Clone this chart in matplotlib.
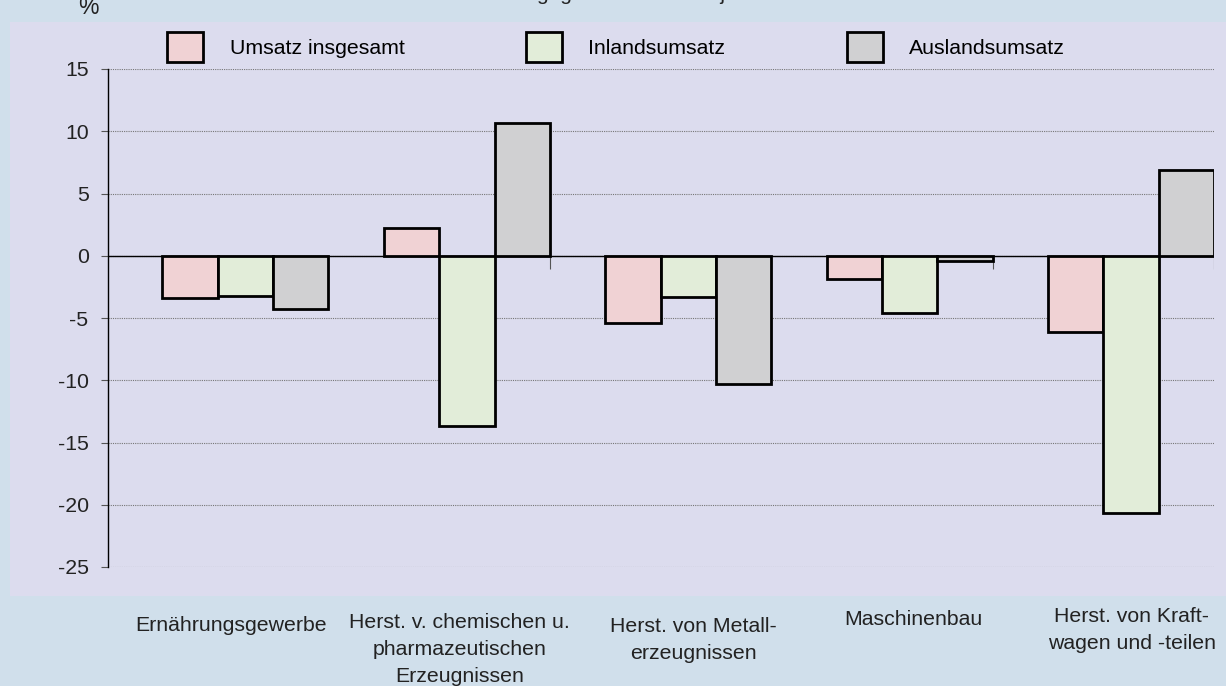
import numpy as np
import matplotlib.pyplot as plt
from matplotlib.patches import Rectangle
from matplotlib.transforms import blended_transform_factory, offset_copy

plt.rcParams['font.family'] = ['Liberation Sans', 'DejaVu Sans']

categories = ["Ernährungsgewerbe",
              "Herst. v. chemischen u.\npharmazeutischen\nErzeugnissen",
              "Herst. von Metall-\nerzeugnissen",
              "Maschinenbau",
              "Herst. von Kraft-\nwagen und -teilen"]
series_names = ["Umsatz insgesamt", "Inlandsumsatz", "Auslandsumsatz"]
umsatz = [-3.4, 2.2, -5.4, -1.9, -6.1]
inland = [-3.2, -13.7, -3.3, -4.6, -20.7]
ausland = [-4.3, 10.7, -10.3, -0.4, 6.9]
yticks = [15, 10, 5, 0, -5, -10, -15, -20, -25]

colors = ["#F0D2D4", "#E2EDD9", "#D0D0D2"]
outer_bg = "#D0DFEB"
inner_bg = "#DCDCEE"
W, H = 1226, 686

fig = plt.figure(figsize=(W / 100, H / 100), dpi=100)
fig.patch.set_facecolor(outer_bg)
# lavender panel behind plot and legend
fig.patches.append(Rectangle((10 / W, 1 - 596 / H), 1 - 10 / W, (596 - 22) / H,
                             transform=fig.transFigure, facecolor=inner_bg,
                             edgecolor='none', zorder=-1))

ax = fig.add_axes([108 / W, 1 - 567 / H, 1106 / W, 498 / H])
ax.set_zorder(1)
ax.set_facecolor('none')

x = np.arange(len(categories))
width = 0.25
bars = []
for j, vals in enumerate([umsatz, inland, ausland]):
    b = ax.bar(x + (j - 1) * width, vals, width, color=colors[j],
               edgecolor='black', linewidth=2.0, label=series_names[j], zorder=3)
    bars.append(b)

ax.set_xlim(-0.621, 4.375)
ax.set_ylim(-25, 15)
ax.set_yticks(yticks)
ax.set_yticklabels([str(v) for v in yticks], fontsize=15.3, color='#222222')
ax.tick_params(axis='y', length=5, width=0.8, color='#555555', pad=9)
ax.set_xticks([])
ax.yaxis.grid(True, linestyle=(0, (1, 1)), color='#777777', linewidth=0.8, zorder=1)
ax.axhline(0, color='black', linewidth=1.0, zorder=2)
ax.vlines(x + 1.5 * width, -1.05, 0, color='#555555', linewidth=0.8, zorder=2)
for s in ['top', 'right', 'bottom']:
    ax.spines[s].set_visible(False)
ax.spines['left'].set_linewidth(1.0)

# category labels below the panel
label_top_px = [616, 613, 617, 610, 607]
label_dx_px = [-14, -7, 5, 4, 1]
trans = blended_transform_factory(ax.transData, fig.transFigure)
for i, lab in enumerate(categories):
    t = offset_copy(trans, fig=fig, x=label_dx_px[i], y=0, units='dots')
    ax.text(i, 1 - label_top_px[i] / H, lab, transform=t, clip_on=False,
            ha='center', va='top', fontsize=15.3, linespacing=1.55, color='#222222',
            multialignment='center')

leg = fig.legend(handles=bars, labels=series_names, ncol=3, frameon=False,
                 loc='center left', bbox_to_anchor=(167 / W, 1 - 47 / H),
                 fontsize=15.3, handlelength=1.7, handleheight=1.75,
                 handletextpad=1.25, columnspacing=5.7, borderpad=0,
                 borderaxespad=0)

fig.text(88 / W, 1 - 8 / H, "%", ha='center', va='center', fontsize=16.5, color='#222222')
fig.text(537 / W, 1 - 0.5 / H, "gegenüber dem Vorjahr", ha='left', va='baseline',
         fontsize=15, color='#222222')

fig.savefig("out.png", dpi=100, facecolor=fig.get_facecolor())
